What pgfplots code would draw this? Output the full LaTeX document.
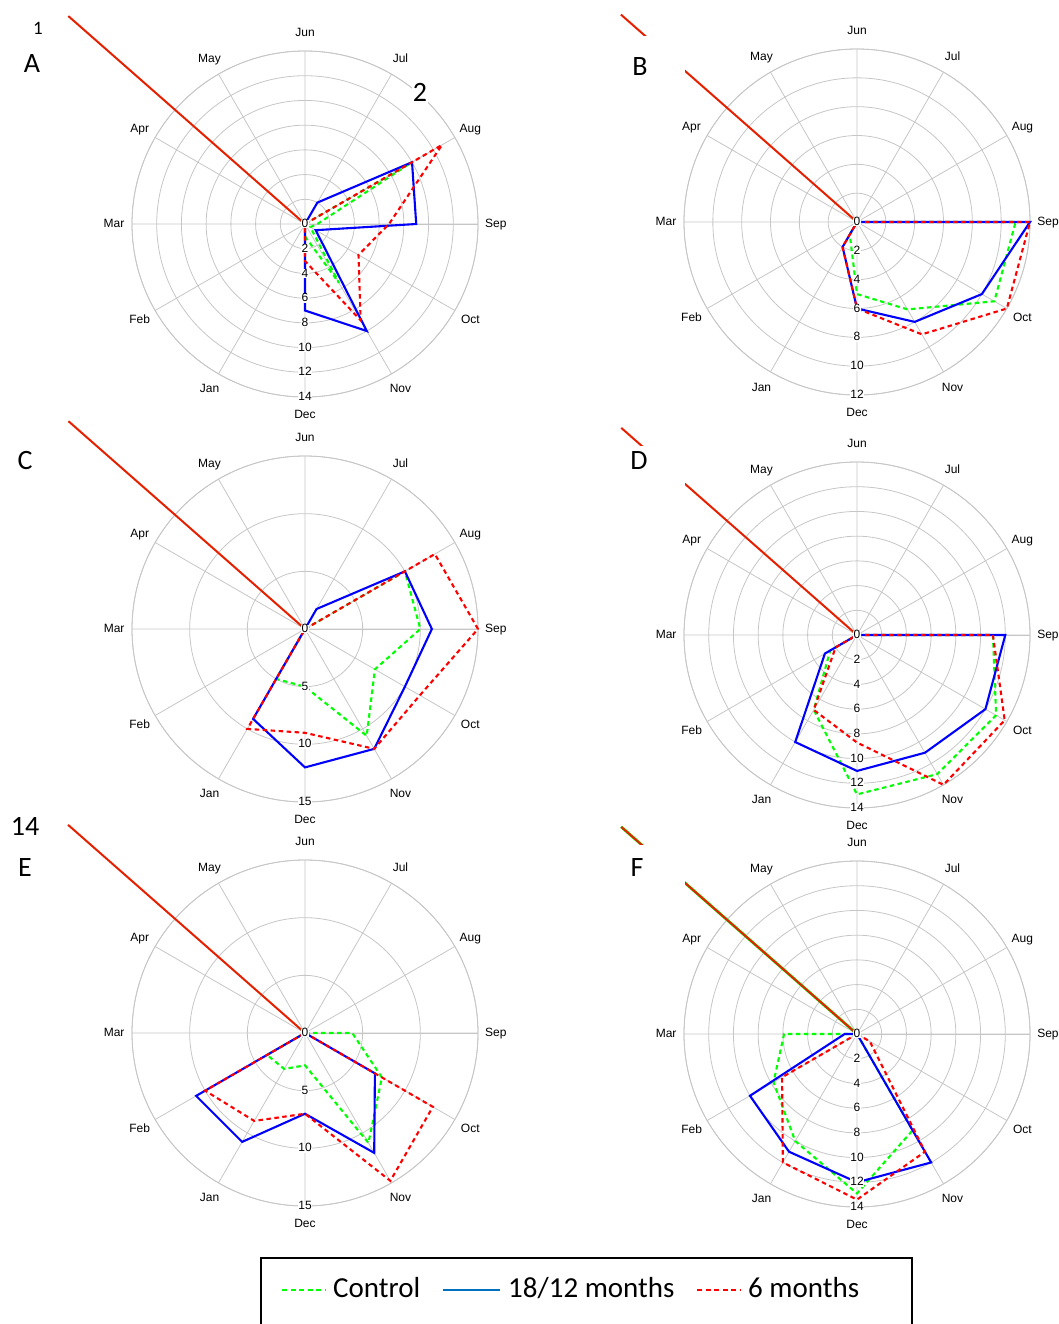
\documentclass[border=0pt]{standalone}
\usepackage{pgfplots}
\pgfplotsset{compat=1.18}
\usepgfplotslibrary{polar}
\usepackage{fontspec}
\setmainfont{Liberation Sans}
\newfontfamily\calfont{Carlito}

\definecolor{ctl}{RGB}{0,255,0}
\definecolor{blu}{RGB}{0,0,255}
\definecolor{sixm}{RGB}{255,0,0}
\definecolor{stray}{RGB}{228,32,0}
\definecolor{legblue}{RGB}{0,112,192}
\definecolor{gridc}{RGB}{198,198,198}

\pgfplotsset{
  radar/.style={
    scale only axis, width=346pt, height=346pt, anchor=center,
    xmin=0, xmax=360, ymin=0,
    xtick={0,30,...,330}, xticklabels={}, yticklabels={},
    major tick length=0pt,
    grid=major, major grid style={draw=gridc, line width=0.8pt},
    axis line style={draw=gridc, line width=0.8pt},
    clip=false,
  },
  r14/.style={radar, ymax=14, ytick={2,4,...,14}},
  r12/.style={radar, ymax=12, ytick={2,4,...,12}},
  r15/.style={radar, ymax=15, ytick={5,10,15}},
  ctlline/.style={draw=ctl, line width=2.1pt, dash pattern=on 4.5pt off 3.5pt, mark=none},
  longline/.style={draw=blu, line width=2.1pt, mark=none},
  sixline/.style={draw=sixm, line width=2.1pt, dash pattern=on 4.5pt off 3.5pt, mark=none},
  strayline/.style={draw=stray, line width=2pt, mark=none},
}
\tikzset{
  mlab/.style={font=\fontsize{12}{14}\selectfont, inner sep=0pt, anchor=center, text height=0.72em, text depth=0pt},
  rlab/.style={font=\fontsize{12}{14}\selectfont, fill=white, inner sep=0.8pt, anchor=center, text height=0.72em, text depth=0pt},
  letter/.style={font=\calfont\fontsize{28}{30}\selectfont, inner sep=0pt, anchor=base},
}

% month names around the outer ring, #1 = label radius in data units
\newcommand\monthlabels[1]{%
  \node[mlab] at (axis cs:90,#1) {Jun};
  \node[mlab] at (axis cs:60,#1) {Jul};
  \node[mlab] at (axis cs:30,#1) {Aug};
  \node[mlab] at (axis cs:0,#1) {Sep};
  \node[mlab] at (axis cs:330,#1) {Oct};
  \node[mlab] at (axis cs:300,#1) {Nov};
  \node[mlab] at (axis cs:270,#1) {Dec};
  \node[mlab] at (axis cs:240,#1) {Jan};
  \node[mlab] at (axis cs:210,#1) {Feb};
  \node[mlab] at (axis cs:180,#1) {Mar};
  \node[mlab] at (axis cs:150,#1) {Apr};
  \node[mlab] at (axis cs:120,#1) {May};
}
% radial value labels along the December spoke
\newcommand\rl[1]{\node[rlab] at (axis cs:270,#1) {#1};}

\begin{document}
\begin{tikzpicture}
\useasboundingbox (0pt,0pt) rectangle (1059pt,-1324pt);
\clip (0pt,0pt) rectangle (1059pt,-1324pt);

% ---------------- A ----------------
\begin{polaraxis}[r14, at={(305pt,-224pt)}]
\addplot[strayline] coordinates {(0,0) (138.7,25.5)};
\addplot[ctlline] coordinates {(90,0) (60,0) (30,10) (0,1) (330,0.5) (300,5.5) (270,1) (240,0) (210,0) (180,0) (150,0) (120,0) (90,0)};
\addplot[longline] coordinates {(90,0) (60,2) (30,10) (0,9) (330,1) (300,10) (270,7) (240,0) (210,0) (180,0) (150,0) (120,0) (90,0)};
\addplot[sixline] coordinates {(90,0) (60,0) (30,12.8) (0,6.8) (330,5) (300,9) (270,3) (240,0) (210,0) (180,0) (150,0) (120,0) (90,0)};
\monthlabels{15.45}
\rl{0}\rl{2}\rl{4}\rl{6}\rl{8}\rl{10}\rl{12}\rl{14}
\end{polaraxis}

% ---------------- B ----------------
\begin{polaraxis}[r12, at={(857pt,-222pt)}]
\addplot[strayline] coordinates {(0,0) (138.7,21.8)};
\addplot[ctlline] coordinates {(90,0) (60,0) (30,0) (0,11) (330,11) (300,7) (270,5) (240,1) (210,0) (180,0) (150,0) (120,0) (90,0)};
\addplot[longline] coordinates {(90,0) (60,0) (30,0) (0,12) (330,10) (300,8) (270,6) (240,2) (210,0) (180,0) (150,0) (120,0) (90,0)};
\addplot[sixline] coordinates {(90,0) (60,0) (30,0) (0,12) (330,12) (300,9) (270,6) (240,2) (210,0) (180,0) (150,0) (120,0) (90,0)};
\monthlabels{13.25}
\rl{0}\rl{2}\rl{4}\rl{6}\rl{8}\rl{10}\rl{12}
\end{polaraxis}

% ---------------- C ----------------
\begin{polaraxis}[r15, at={(305pt,-629pt)}]
\addplot[strayline] coordinates {(0,0) (138.7,27.3)};
\addplot[ctlline] coordinates {(90,0) (60,0) (30,10) (0,10) (330,7) (300,10.7) (270,5) (240,5) (210,0) (180,0) (150,0) (120,0) (90,0)};
\addplot[longline] coordinates {(90,0) (60,2) (30,10) (0,11) (330,10) (300,12) (270,12) (240,9) (210,0) (180,0) (150,0) (120,0) (90,0)};
\addplot[sixline] coordinates {(90,0) (60,0) (30,13) (0,15) (330,11.5) (300,12) (270,9) (240,10) (210,0) (180,0) (150,0) (120,0) (90,0)};
\monthlabels{16.55}
\rl{0}\rl{5}\rl{10}\rl{15}
\end{polaraxis}

% ---------------- D ----------------
\begin{polaraxis}[r14, at={(857pt,-635pt)}]
\addplot[strayline] coordinates {(0,0) (138.7,25.4)};
\addplot[ctlline] coordinates {(90,0) (60,0) (30,0) (0,11) (330,13) (300,13) (270,12.9) (240,7) (210,2.5) (180,0) (150,0) (120,0) (90,0)};
\addplot[longline] coordinates {(90,0) (60,0) (30,0) (0,12) (330,12) (300,11) (270,11) (240,10) (210,3) (180,0) (150,0) (120,0) (90,0)};
\addplot[sixline] coordinates {(90,0) (60,0) (30,0) (0,11) (330,13.8) (300,14) (270,8.7) (240,7) (210,2) (180,0) (150,0) (120,0) (90,0)};
\monthlabels{15.45}
\rl{0}\rl{2}\rl{4}\rl{6}\rl{8}\rl{10}\rl{12}\rl{14}
\end{polaraxis}

% ---------------- E ----------------
\begin{polaraxis}[r15, at={(305pt,-1033pt)}]
\addplot[strayline] coordinates {(0,0) (138.7,27.35)};
\addplot[ctlline] coordinates {(90,0) (60,0) (30,0) (0,4.1) (330,7.7) (300,11) (270,2.8) (240,3.6) (210,3.8) (180,0) (150,0) (120,0) (90,0)};
\addplot[longline] coordinates {(90,0) (60,0) (30,0) (0,0) (330,7) (300,12) (270,7) (240,10.9) (210,10.9) (180,0) (150,0) (120,0) (90,0)};
\addplot[sixline] coordinates {(90,0) (60,0) (30,0) (0,0) (330,12.8) (300,14.8) (270,7) (240,8.8) (210,10) (180,0) (150,0) (120,0) (90,0)};
\monthlabels{16.55}
\rl{0}\rl{5}\rl{10}\rl{15}
\end{polaraxis}

% ---------------- F ----------------
\begin{polaraxis}[r14, at={(857pt,-1034pt)}]
\addplot[draw=ctl, line width=2.8pt, mark=none] coordinates {(0,0) (138.7,25.4)};
\addplot[strayline] coordinates {(0,0) (138.7,25.4)};
\addplot[ctlline] coordinates {(90,0) (60,0) (30,0) (0,0) (330,0) (300,9) (270,12.9) (240,10) (210,7.8) (180,5.9) (150,0) (120,0) (90,0)};
\addplot[longline] coordinates {(90,0) (60,0) (30,0) (0,0) (330,0) (300,12) (270,12) (240,11) (210,10) (180,1) (150,0) (120,0) (90,0)};
\addplot[sixline] coordinates {(90,0) (60,0) (30,0) (0,0) (330,1.2) (300,11) (270,13.4) (240,12) (210,7) (180,0) (150,0) (120,0) (90,0)};
\monthlabels{15.45}
\rl{0}\rl{2}\rl{4}\rl{6}\rl{8}\rl{10}\rl{12}\rl{14}
\end{polaraxis}

% panel letters and markers
\fill[white] (612pt,-36pt) rectangle (685pt,-100pt);
\fill[white] (612pt,-446pt) rectangle (685pt,-505pt);
\fill[white] (612pt,-845pt) rectangle (685pt,-905pt);
\node[letter] at (32pt,-73pt) {A};
\node[letter] at (640pt,-76pt) {B};
\node[letter] at (25pt,-469pt) {C};
\node[letter] at (639pt,-469pt) {D};
\node[letter] at (25pt,-876pt) {E};
\node[letter] at (637pt,-876pt) {F};
\node[letter, font=\calfont\fontsize{19}{20}\selectfont] at (38pt,-35pt) {1};
\node[letter, fill=white, inner sep=1pt] at (420pt,-102pt) {2};
\node[letter] at (25pt,-835pt) {14};

% legend
\draw[black, line width=1.5pt] (261pt,-1258pt) rectangle (912pt,-1345pt);
\draw[ctl, line width=2pt, dash pattern=on 5pt off 3.5pt] (282pt,-1290pt) -- (325pt,-1290pt);
\node[letter, anchor=base west, font=\calfont\fontsize{29}{30}\selectfont] at (333pt,-1297pt) {Control};
\draw[legblue, line width=2.5pt] (443pt,-1290pt) -- (500pt,-1290pt);
\node[letter, anchor=base west, font=\calfont\fontsize{29}{30}\selectfont] at (508pt,-1297pt) {18/12 months};
\draw[sixm, line width=2pt, dash pattern=on 5pt off 3.5pt] (697pt,-1290pt) -- (740pt,-1290pt);
\node[letter, anchor=base west, font=\calfont\fontsize{29}{30}\selectfont] at (748pt,-1297pt) {6 months};
\end{tikzpicture}
\end{document}
